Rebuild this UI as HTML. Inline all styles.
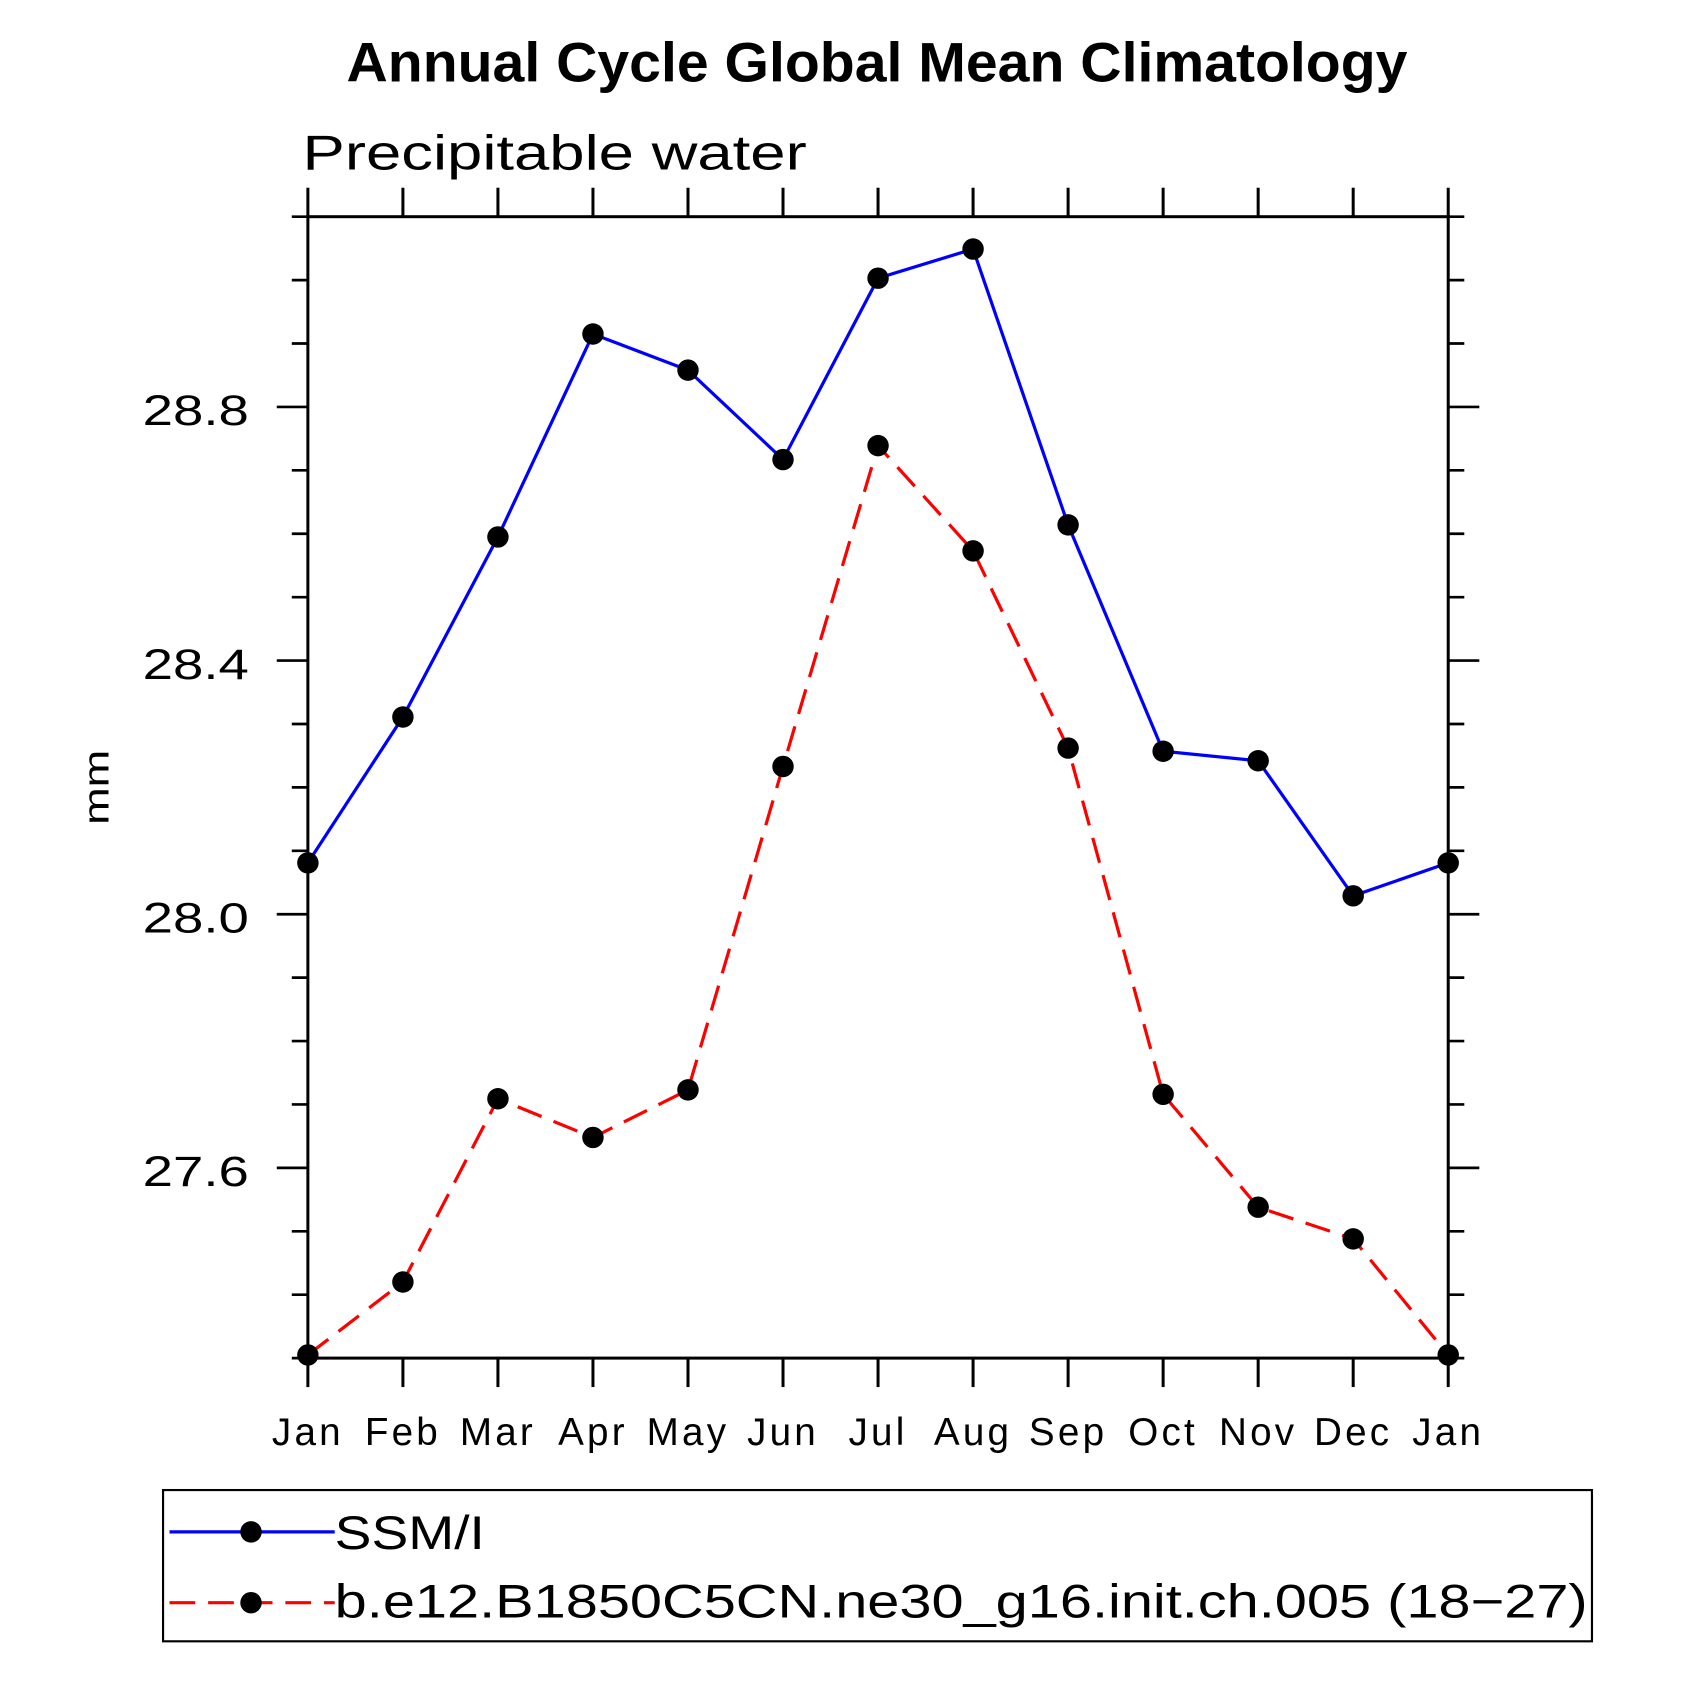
<!DOCTYPE html>
<html><head><meta charset="utf-8"><style>
html,body{margin:0;padding:0;background:#fff;}
svg{display:block;}
text{font-family:"Liberation Sans",sans-serif;fill:#000;}
</style></head><body>
<svg id="chart" width="1681" height="1681" viewBox="0 0 1567 1567" xmlns="http://www.w3.org/2000/svg">
<text x="323" y="76" textLength="989" lengthAdjust="spacingAndGlyphs" font-size="52" font-weight="bold">Annual Cycle Global Mean Climatology</text>
<text x="282" y="158" textLength="470" lengthAdjust="spacingAndGlyphs" font-size="46">Precipitable water</text>
<text transform="translate(101,734) rotate(-90)" text-anchor="middle" font-size="34" textLength="70" lengthAdjust="spacingAndGlyphs">mm</text>
<g id="axes"></g>
<g id="series"></g>
<g>
<rect x="152" y="1389" width="1332" height="141" fill="none" stroke="#000" stroke-width="2"/>
<g>
<line x1="158" y1="1428" x2="312" y2="1428" stroke="#00f" stroke-width="3"/>
<circle cx="234" cy="1428" r="10" fill="#000"/>
<text x="312" y="1444" font-size="44" textLength="140" lengthAdjust="spacingAndGlyphs">SSM/I</text></g>
<g>
<line x1="158" y1="1494" x2="312" y2="1494" stroke="#f00" stroke-width="3" stroke-dasharray="24,12"/>
<circle cx="234" cy="1494" r="10" fill="#000"/>
<text x="312" y="1508" font-size="44" textLength="1168" lengthAdjust="spacingAndGlyphs">b.e12.B1850C5CN.ne30_g16.init.ch.005 (18−27)</text></g>
</g>
</svg>
<script>
const months = ["Jan","Feb","Mar","Apr","May","Jun","Jul","Aug","Sep","Oct","Nov","Dec","Jan"];
const ssmiValues = [28.081,28.311,28.595,28.915,28.858,28.717,29.003,29.049,28.614,28.257,28.242,28.029,28.081];
const modelValues = [27.305,27.42,27.709,27.648,27.723,28.233,28.739,28.573,28.262,27.716,27.538,27.488,27.305];
const yTickLabels = ["27.6","28.0","28.4","28.8"];
const yMin = 27.3, yMax = 29.1;
const L=287,R=1350,T=202,B=1266;
const NS="http://www.w3.org/2000/svg";
function xs(i){return L+(R-L)*i/(months.length-1);}
function ys(v){return B-(B-T)*(v-yMin)/(yMax-yMin);}
function mk(tag,attrs,parent){const e=document.createElementNS(NS,tag);for(const k in attrs)e.setAttribute(k,attrs[k]);parent.appendChild(e);return e;}
const ax=document.getElementById('axes');
const frame=mk('rect',{x:L,y:T,width:R-L,height:B-T,fill:'none',stroke:'#000','stroke-width':2.8},ax);


months.forEach((m,i)=>{
  const x=xs(i);
  const t1=mk('line',{x1:x,y1:B,x2:x,y2:B+27,stroke:'#000','stroke-width':2.8},ax);
  
  
  const t2=mk('line',{x1:x,y1:T,x2:x,y2:T-27,stroke:'#000','stroke-width':2.8},ax);
  
  
  const lb=mk('text',{x:x,y:B+81,'text-anchor':'middle','font-size':36,'letter-spacing':3},ax);
  lb.textContent=m;
  
  
});
for(let k=0;k<=18;k++){
  const v=yMin+k*0.1; const y=ys(v);
  const major=(k%4===3);
  const len=major?29:15;
  const a=mk('line',{x1:L-len,y1:y,x2:L,y2:y,stroke:'#000','stroke-width':2.5},ax);
  
  
  const b=mk('line',{x1:R,y1:y,x2:R+len,y2:y,stroke:'#000','stroke-width':2.5},ax);
  
  
}
yTickLabels.forEach(s=>{
  const lb=mk('text',{x:133,y:ys(parseFloat(s))+17,'font-size':40,textLength:99,lengthAdjust:'spacingAndGlyphs'},ax);
  lb.textContent=s;
  
  
});
const sg=document.getElementById('series');
function drawSeries(vals,color,dash,name){
  const pts=vals.map((v,i)=>xs(i)+','+ys(v)).join(' ');
  const pl=mk('polyline',{points:pts,fill:'none',stroke:color,'stroke-width':3,'stroke-dasharray':dash},sg);
  
  
  vals.forEach((v,i)=>{
    const c=mk('circle',{cx:xs(i),cy:ys(v),r:10,fill:'#000'},sg);
    
    
  });
}
drawSeries(modelValues,'#f00','24,12','model');
drawSeries(ssmiValues,'#00f','none','ssmi');
</script>
</body></html>
